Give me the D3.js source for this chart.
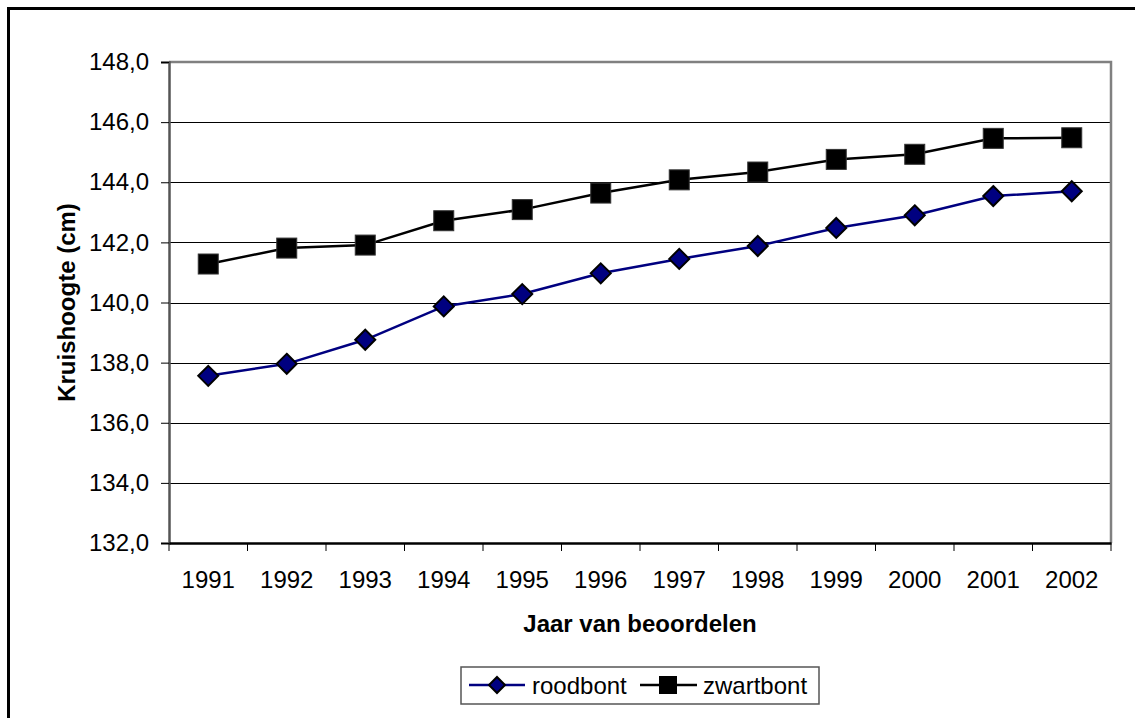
<!DOCTYPE html>
<html lang="nl">
<head>
<meta charset="UTF-8">
<title>Kruishoogte</title>
<script src="https://d3js.org/d3.v7.min.js"></script>
<style>
  body { margin: 0; background: #fff; }
  text { font-family: "Liberation Sans", Arial, sans-serif; fill: #000; }
</style>
</head>
<body>
<div id="chart"></div>
<script>
// data
const years = ["1991","1992","1993","1994","1995","1996","1997","1998","1999","2000","2001","2002"];
const roodbont = [137.56, 137.96, 138.76, 139.87, 140.28, 140.97, 141.45, 141.88, 142.48, 142.90, 143.54, 143.70];
const zwartbont = [141.28, 141.81, 141.91, 142.72, 143.09, 143.64, 144.08, 144.34, 144.76, 144.93, 145.46, 145.48];
const yTicks = [132, 134, 136, 138, 140, 142, 144, 146, 148];

const W = 1135, H = 718;
const m = {left: 169, right: 1111, top: 62, bottom: 543};

const svg = d3.select("#chart").append("svg")
    .attr("width", W).attr("height", H);

// outer frame
svg.append("rect")
    .attr("x", 8.5).attr("y", 8.5)
    .attr("width", W + 20).attr("height", H + 20)
    .attr("fill", "#fff").attr("stroke", "#000").attr("stroke-width", 3);

const x = d3.scaleBand().domain(years).range([m.left, m.right]);
const y = d3.scaleLinear().domain([132, 148]).range([m.bottom, m.top]);
const fmt = d => d3.format(".1f")(d).replace(".", ",");

// gridlines
svg.append("g").selectAll("line")
  .data(yTicks.filter(d => d > 132 && d < 148))
  .join("line")
    .attr("x1", m.left).attr("x2", m.right)
    .attr("y1", d => Math.round(y(d)) + 0.5).attr("y2", d => Math.round(y(d)) + 0.5)
    .attr("stroke", "#000").attr("stroke-width", 1);

// plot frame top / right
svg.append("path")
    .attr("d", `M${m.left},${m.top}H${m.right}V${m.bottom}`)
    .attr("fill", "none").attr("stroke", "#808080").attr("stroke-width", 2.5);

// y axis
const yAxis = svg.append("g")
    .attr("transform", `translate(${m.left},0)`)
    .call(d3.axisLeft(y).tickValues(yTicks).tickFormat(fmt).tickSize(8).tickPadding(12));
yAxis.select(".domain").attr("stroke", "#555").attr("stroke-width", 2.5);
yAxis.selectAll(".tick line").attr("stroke", "#000");
yAxis.selectAll("text").style("font-size", "24px").attr("fill", "#000");

// x axis
const xAxis = svg.append("g")
    .attr("transform", `translate(0,${m.bottom})`)
    .call(d3.axisBottom(x).tickSize(0).tickPadding(28));
xAxis.select(".domain").attr("stroke", "#000").attr("stroke-width", 2.5);
xAxis.selectAll("text").style("font-size", "24px").attr("fill", "#000");
// category separator ticks
svg.append("g").selectAll("line")
  .data(years.concat(["end"]))
  .join("line")
    .attr("x1", (d, i) => i < years.length ? x(d) : x(years[years.length-1]) + x.bandwidth())
    .attr("x2", (d, i) => i < years.length ? x(d) : x(years[years.length-1]) + x.bandwidth())
    .attr("y1", m.bottom).attr("y2", m.bottom + 8)
    .attr("stroke", "#000").attr("stroke-width", 1);

// axis titles
svg.append("text")
    .attr("x", (m.left + m.right) / 2).attr("y", 632)
    .attr("text-anchor", "middle")
    .style("font-size", "24px").style("font-weight", "bold")
    .text("Jaar van beoordelen");
svg.append("text")
    .attr("transform", `translate(75,${(m.top + m.bottom) / 2}) rotate(-90)`)
    .attr("text-anchor", "middle")
    .style("font-size", "24px").style("font-weight", "bold")
    .text("Kruishoogte (cm)");

const cx = i => x(years[i]) + x.bandwidth() / 2;
const line = d3.line().x((d, i) => cx(i)).y(d => y(d));

// series
svg.append("path").datum(zwartbont)
    .attr("d", line).attr("fill", "none")
    .attr("stroke", "#000").attr("stroke-width", 2.5);
svg.append("path").datum(roodbont)
    .attr("d", line).attr("fill", "none")
    .attr("stroke", "#000080").attr("stroke-width", 2.5);

svg.append("g").selectAll("rect")
  .data(zwartbont)
  .join("rect")
    .attr("x", (d, i) => cx(i) - 10).attr("y", d => y(d) - 10)
    .attr("width", 20).attr("height", 20)
    .attr("fill", "#000").attr("stroke", "#333").attr("stroke-width", 1);

const diamond = "M0,-10L10,0L0,10L-10,0Z";
svg.append("g").selectAll("path")
  .data(roodbont)
  .join("path")
    .attr("transform", (d, i) => `translate(${cx(i)},${y(d)})`)
    .attr("d", diamond)
    .attr("fill", "#000080").attr("stroke", "#000").attr("stroke-width", 2);

// legend
const lg = svg.append("g");
lg.append("rect")
    .attr("x", 461).attr("y", 667).attr("width", 358).attr("height", 37)
    .attr("fill", "#fff").attr("stroke", "#555").attr("stroke-width", 1.5);
lg.append("line").attr("x1", 469).attr("x2", 525).attr("y1", 685).attr("y2", 685)
    .attr("stroke", "#000080").attr("stroke-width", 2.5);
lg.append("path").attr("transform", "translate(497,685)")
    .attr("d", "M0,-8L8,0L0,8L-8,0Z")
    .attr("fill", "#000080").attr("stroke", "#000").attr("stroke-width", 2);
lg.append("text").attr("x", 532).attr("y", 694).style("font-size", "24px").text("roodbont");
lg.append("line").attr("x1", 640).attr("x2", 697).attr("y1", 685).attr("y2", 685)
    .attr("stroke", "#000").attr("stroke-width", 2.5);
lg.append("rect").attr("x", 659).attr("y", 676).attr("width", 18).attr("height", 18)
    .attr("fill", "#000");
lg.append("text").attr("x", 703).attr("y", 694).style("font-size", "24px").text("zwartbont");
</script>
</body>
</html>
